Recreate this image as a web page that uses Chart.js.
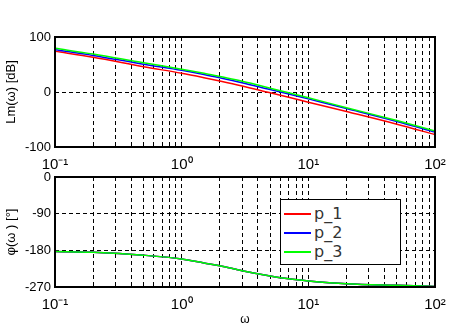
<!DOCTYPE html>
<html>
<head>
<meta charset="utf-8">
<script src="https://cdn.jsdelivr.net/npm/chart.js@4.4.1/dist/chart.umd.min.js"></script>
<style>
  body { margin: 0; background: #fff; }
  #wrap { position: relative; width: 461px; height: 330px; }
  #wrap canvas { position: absolute; left: 0; top: 0; }
  #legend {
    position: absolute; left: 280px; top: 199px; width: 121px; height: 66px;
    border: 1px solid #000; background: #fff; padding-top: 5px; box-sizing: border-box;
  }
  .lg-row { display: flex; align-items: center; height: 18.7px; padding-left: 3px; }
  .lg-line { width: 27px; height: 2px; margin-right: 3px; }
  .lg-text { font: 16px "DejaVu Sans", sans-serif; color: #333; line-height: 1; }
</style>
</head>
<body>
<div id="wrap">
  <canvas id="mag" width="461" height="330"></canvas>
  <canvas id="phase" width="461" height="330"></canvas>
  <div id="legend"></div>
</div>
<script>
// values
const omega    = [0.1, 0.2, 0.5, 1, 1.5, 2, 3, 5, 7, 10, 20, 50, 100];
const lm_p1    = [74, 63, 46, 34, 26, 20, 11, -1.5, -9.5, -18.5, -35.5, -58.5, -77.5];
const lm_p2    = [77, 66.5, 50.5, 39.5, 32, 26, 17, 4.5, -3.5, -12.5, -30, -53.5, -73];
const lm_p3    = [79.5, 69, 53, 41.5, 34, 28, 19.5, 7, -1.5, -10.5, -28.5, -52, -71];
const phi_p1   = [-183, -185, -192, -201, -211, -218, -230, -243, -250, -255, -262, -266, -268.5];
const phi_p2   = [-183, -185, -192, -201, -211, -218, -230, -243, -250, -255, -262, -266, -268.5];
const phi_p3   = [-183, -185, -192, -201, -211, -218, -230, -243, -250, -255, -262, -266, -268.5];
const names    = ["p_1", "p_2", "p_3"];
const colors   = ["#ff0000", "#0000ff", "#00ff00"];
const xGrid    = [0.1,0.2,0.3,0.4,0.5,0.6,0.7,0.8,0.9,1,2,3,4,5,6,7,8,9,10,20,30,40,50,60,70,80,90,100];
const xLabels  = { "0.1": "10⁻¹", "1": "10⁰", "10": "10¹", "100": "10²" };
const magTicks = [-100, 0, 100];
const phiTicks = [-270, -180, -90, 0];

const pts = ys => omega.map((w, i) => ({ x: w, y: ys[i] }));

const frame = {
  id: "frame",
  afterDraw(c) {
    const { left, top, right, bottom } = c.chartArea, g = c.ctx;
    g.save(); g.strokeStyle = "#000"; g.lineWidth = 2;
    g.strokeRect(left, top, right - left, bottom - top);
    g.restore();
  }
};

function makeChart(id, series, yTicks, yMin, yMax, yTitle, pad, xTitle) {
  const tickFont = { family: "'Liberation Sans', Arial, sans-serif", size: 13 };
  return new Chart(document.getElementById(id), {
    type: "line",
    data: {
      datasets: series.map((ys, i) => ({
        label: names[i], data: pts(ys), borderColor: colors[i], borderWidth: 1.5,
        pointRadius: 0, cubicInterpolationMode: "monotone", order: 3 - i
      }))
    },
    options: {
      responsive: false, animation: false, events: [],
      layout: { padding: pad },
      plugins: { legend: { display: false }, tooltip: { enabled: false } },
      scales: {
        x: {
          type: "logarithmic", min: 0.1, max: 100,
          afterBuildTicks: s => { s.ticks = xGrid.map(v => ({ value: v })); },
          afterFit: s => { s.height = xTitle ? 40 : 30; },
          grid: { color: "#000", lineWidth: 1, drawTicks: false },
          border: { display: false, dash: [4, 3] },
          ticks: {
            autoSkip: false, maxRotation: 0, padding: 9, color: "#000",
            font: { family: "'Liberation Sans', Arial, sans-serif", size: 15 },
            callback: v => xLabels[String(v)] || ""
          },
          title: xTitle ? { display: true, text: xTitle, color: "#000", padding: 0,
                             font: { family: "'Liberation Sans', Arial, sans-serif", size: 12 } } : { display: false }
        },
        y: {
          min: yMin, max: yMax,
          afterBuildTicks: s => { s.ticks = yTicks.map(v => ({ value: v })); },
          afterFit: s => { s.width = 55; },
          grid: { color: "#000", lineWidth: 1, drawTicks: false },
          border: { display: false, dash: [4, 3] },
          ticks: { padding: 4, color: "#000", font: tickFont },
          title: { display: true, text: yTitle, color: "#000", padding: { top: 4, bottom: 0 }, font: tickFont }
        }
      }
    },
    plugins: [frame]
  });
}

makeChart("mag", [lm_p1, lm_p2, lm_p3], magTicks, -100, 100, "Lm(ω) [dB]",
  { top: 37, right: 26, left: 0, bottom: 330 - 147 - 30 });
makeChart("phase", [phi_p1, phi_p2, phi_p3], phiTicks, -270, 0, "φ(ω ) [°]",
  { top: 177, right: 26, left: 0, bottom: 330 - 287 - 40 }, "ω");

// legend box
const lg = document.getElementById("legend");
names.forEach((n, i) => {
  const row = document.createElement("div"); row.className = "lg-row";
  const ln = document.createElement("div"); ln.className = "lg-line"; ln.style.background = colors[i];
  const tx = document.createElement("span"); tx.className = "lg-text"; tx.textContent = n;
  row.appendChild(ln); row.appendChild(tx); lg.appendChild(row);
});
</script>
</body>
</html>
